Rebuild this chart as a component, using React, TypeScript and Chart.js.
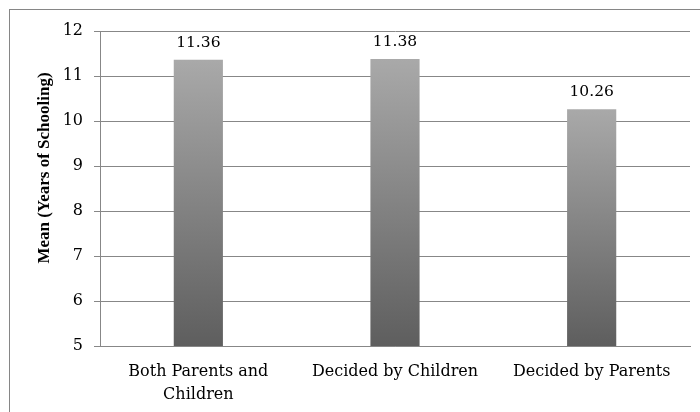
import React, { useEffect, useRef } from "react";
import { Chart, registerables } from "chart.js";

Chart.register(...registerables);

const categories: (string | string[])[] = [
  ["Both Parents and", "Children"],
  "Decided by Children",
  "Decided by Parents",
];
const values = [11.36, 11.38, 10.26];
const valueLabels = ["11.36", "11.38", "10.26"];
const yMin = 5;
const yMax = 12;
const yStep = 1;
const yTitle = "Mean (Years of Schooling)";

const FONT = "'DejaVu Serif', serif";
const TITLE_FONT = "'Liberation Serif', 'DejaVu Serif', serif";

const framePlugin = {
  id: "frame",
  beforeDraw(chart: any) {
    const c = chart.ctx;
    c.save();
    c.fillStyle = "#ffffff";
    c.fillRect(0, 0, chart.width, chart.height);
    c.strokeStyle = "#868686";
    c.lineWidth = 1;
    c.strokeRect(9.5, 9.5, 800, 800);
    c.restore();
  },
  afterDraw(chart: any) {
    const c = chart.ctx;
    c.save();
    c.translate(45, 168);
    c.rotate(-Math.PI / 2);
    c.textAlign = "center";
    c.textBaseline = "middle";
    c.fillStyle = "#000";
    c.font = `bold 17px ${TITLE_FONT}`;
    c.fillText(yTitle, 0, 0);
    c.restore();
  },
};

const labelPlugin = {
  id: "valueLabels",
  afterDatasetsDraw(chart: any) {
    const c = chart.ctx;
    const meta = chart.getDatasetMeta(0);
    c.save();
    c.textAlign = "center";
    c.textBaseline = "alphabetic";
    c.fillStyle = "#000";
    c.font = `15.5px ${FONT}`;
    meta.data.forEach((bar: any, i: number) => {
      c.fillText(valueLabels[i], bar.x, bar.y - 13);
    });
    c.restore();
  },
};

export default function App() {
  const ref = useRef<HTMLCanvasElement | null>(null);
  useEffect(() => {
    if (!ref.current) return;
    const chart = new Chart(ref.current, {
      type: "bar",
      data: {
        labels: categories,
        datasets: [
          {
            data: values,
            borderWidth: 0,
            backgroundColor: (ctx: any) => {
              const ch = ctx.chart;
              if (!ch.chartArea) return "#888";
              const y = ch.scales.y;
              const top = y.getPixelForValue(values[ctx.dataIndex]);
              const bottom = y.getPixelForValue(yMin);
              const g = ch.ctx.createLinearGradient(0, top, 0, bottom);
              g.addColorStop(0, "#a9a9a9");
              g.addColorStop(1, "#5e5e5e");
              return g;
            },
            barPercentage: 0.25,
            categoryPercentage: 1,
          },
        ],
      },
      options: {
        responsive: false,
        animation: false,
        layout: { padding: { top: 31, right: 10, left: 0, bottom: 0 } },
        plugins: {
          legend: { display: false },
          tooltip: { enabled: false },
        },
        scales: {
          x: {
            grid: { display: false },
            border: { display: true, color: "#878787" },
            ticks: {
              color: "#000",
              font: { family: FONT, size: 16, lineHeight: 1.4 },
              padding: 7,
              maxRotation: 0,
              autoSkip: false,
            },
            afterFit: (s: any) => {
              s.height = 66;
            },
          },
          y: {
            min: yMin,
            max: yMax,
            grid: { color: "#878787", lineWidth: 1, tickLength: 6, drawTicks: true },
            border: { display: true, color: "#878787" },
            ticks: {
              stepSize: yStep,
              color: "#000",
              font: { family: FONT, size: 16 },
              padding: 11,
            },
            afterFit: (s: any) => {
              s.width = 100;
            },
          },
        },
      },
      plugins: [framePlugin, labelPlugin],
    });
    return () => chart.destroy();
  }, []);
  return (
    <div style={{ position: "absolute", left: 0, top: 0, width: 700, height: 412 }}>
      <canvas ref={ref} width={700} height={412} style={{ width: 700, height: 412, display: "block" }} />
    </div>
  );
}
